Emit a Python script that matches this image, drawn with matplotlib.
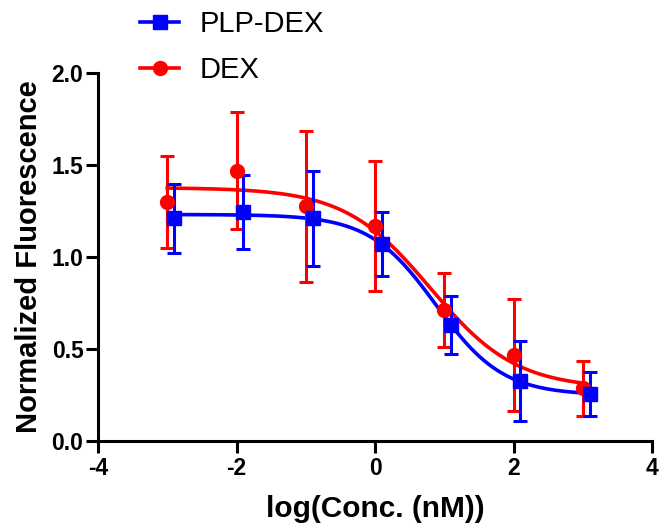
import numpy as np
import matplotlib.pyplot as plt
from matplotlib.lines import Line2D

plt.rcParams['font.family'] = ['Liberation Sans', 'DejaVu Sans']
plt.rcParams['axes.unicode_minus'] = False

# log concentrations (PLP-DEX points are nudged right in the original graph)
log_conc_dex = [-3, -2, -1, 0, 1, 2, 3]
log_conc_plp = [-2.9, -1.9, -0.9, 0.1, 1.1, 2.1, 3.1]

# mean +/- SD
plp_mean = [1.21, 1.245, 1.21, 1.07, 0.63, 0.325, 0.253]
plp_sd = [0.19, 0.20, 0.26, 0.175, 0.16, 0.22, 0.12]
dex_mean = [1.30, 1.47, 1.275, 1.17, 0.712, 0.467, 0.286]
dex_sd = [0.25, 0.32, 0.41, 0.355, 0.20, 0.305, 0.15]

x_ticks = [-4, -2, 0, 2, 4]
y_ticks = [0.0, 0.5, 1.0, 1.5, 2.0]


def fit_4pl(x, y):
    # grid search over logIC50 / hill, bottom and top solved by least squares
    x = np.asarray(x, float)
    y = np.asarray(y, float)
    best = None
    for c in np.arange(-1.0, 2.0, 0.02):
        for h in np.arange(0.3, 3.0, 0.05):
            f = 1 / (1 + 10 ** ((x - c) * h))
            A = np.column_stack([1 - f, f])
            coef, *_ = np.linalg.lstsq(A, y, rcond=None)
            err = np.sum((A @ coef - y) ** 2)
            if best is None or err < best[0]:
                best = (err, coef[0], coef[1], c, h)
    return best[1:]


def model(x, bottom, top, c, h):
    return bottom + (top - bottom) / (1 + 10 ** ((x - c) * h))


fig = plt.figure(figsize=(6.62, 5.27), dpi=100)
ax = fig.add_axes([98 / 662, 1 - 440.7 / 527, (652 - 98) / 662, (440.7 - 73.3) / 527])

series = [
    ('DEX', log_conc_dex, dex_mean, dex_sd, '#ff0000', 'o'),
    ('PLP-DEX', log_conc_plp, plp_mean, plp_sd, '#0000ff', 's'),
]

for name, x, m, s, col, mk in series:
    p = fit_4pl(x, m)
    xs = np.linspace(min(x), max(x), 300)
    ax.plot(xs, model(xs, *p), color=col, lw=2.6, zorder=2)
    ax.errorbar(x, m, yerr=s, fmt='none', ecolor=col, elinewidth=2.2,
                capsize=5, capthick=2.2, zorder=3)
    ax.plot(x, m, mk, color=col, ms=10, zorder=4)

ax.set_xlim(-4, 4)
ax.set_ylim(0, 2.0)
ax.set_xticks(x_ticks)
ax.set_yticks(y_ticks)
ax.set_yticklabels([f'{v:.1f}' for v in y_ticks])

for side in ['top', 'right']:
    ax.spines[side].set_visible(False)
for side in ['left', 'bottom']:
    ax.spines[side].set_linewidth(2.2)
ax.tick_params(direction='out', length=8.5, width=2.2, labelsize=16.5)
ax.tick_params(axis='x', pad=3)
ax.tick_params(axis='y', pad=2)
plt.setp(ax.get_xticklabels() + ax.get_yticklabels(), fontweight='bold')

ax.set_xlabel('log(Conc. (nM))', fontsize=21.5, fontweight='bold', labelpad=11)
ax.set_ylabel('Normalized Fluorescence', fontsize=21, fontweight='bold', labelpad=6)

handles = [
    Line2D([], [], color='#0000ff', marker='s', ms=10, lw=2.6, label='PLP-DEX'),
    Line2D([], [], color='#ff0000', marker='o', ms=10, lw=2.6, label='DEX'),
]
fig.legend(handles=handles, loc='upper left', bbox_to_anchor=(0.172, 1.03),
           frameon=False, fontsize=21, handlelength=1.35, handletextpad=0.7,
           labelspacing=0.6)

fig.savefig('out.png', dpi=100)
